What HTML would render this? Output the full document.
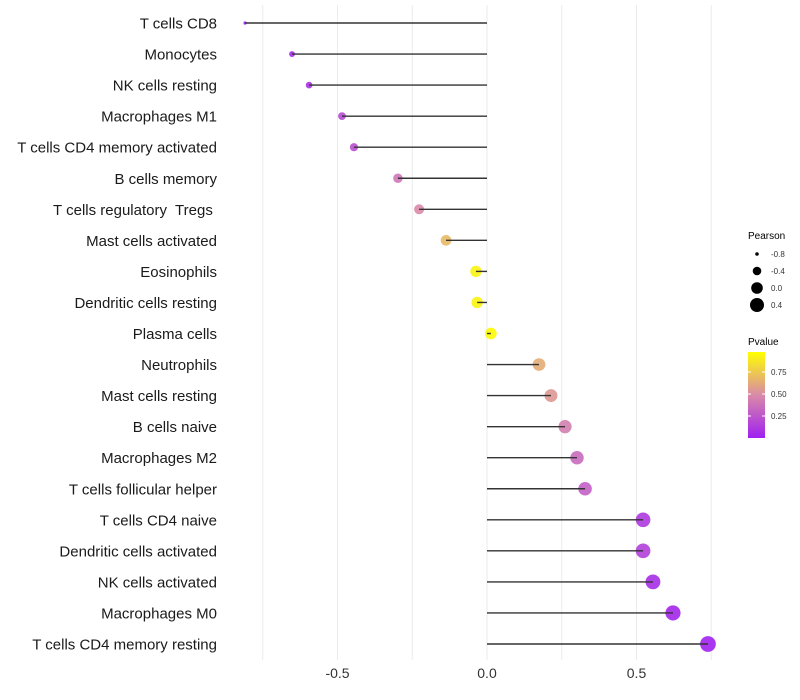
<!DOCTYPE html>
<html><head><meta charset="utf-8"><style>
body{margin:0;background:#fff;}
svg{display:block;font-family:"Liberation Sans",sans-serif;}
text{white-space:pre;}
</style></head><body>
<svg id="chart" width="800" height="700">
<defs><linearGradient id="pg" x1="0" y1="1" x2="0" y2="0">
<stop offset="0" stop-color="#A020F0"/><stop offset="0.5" stop-color="#D98AA8"/><stop offset="1" stop-color="#FFFF00"/>
</linearGradient></defs>
<g id="grid"></g><g id="marks"></g><g id="labels"></g>
<g>
<text x="748" y="239" font-size="10">Pearson</text>
<g id="sizeLeg"></g>
<text x="748" y="345" font-size="10">Pvalue</text>
<rect x="748" y="352" width="17" height="86" fill="url(#pg)"/>
<g id="cbTicks"></g>
</g>
</svg>
<script>
const categories=["T cells CD8","Monocytes","NK cells resting","Macrophages M1","T cells CD4 memory activated","B cells memory","T cells regulatory  Tregs ","Mast cells activated","Eosinophils","Dendritic cells resting","Plasma cells","Neutrophils","Mast cells resting","B cells naive","Macrophages M2","T cells follicular helper","T cells CD4 naive","Dendritic cells activated","NK cells activated","Macrophages M0","T cells CD4 memory resting"];
const pearson=[-0.809,-0.652,-0.595,-0.485,-0.445,-0.298,-0.227,-0.137,-0.037,-0.033,0.013,0.174,0.214,0.261,0.301,0.328,0.522,0.522,0.555,0.622,0.739];
const pvalue=[0.01,0.04,0.08,0.2,0.22,0.4,0.5,0.7,0.95,0.95,0.98,0.65,0.56,0.45,0.35,0.3,0.12,0.15,0.06,0.03,0.01];
const xTicks=[-0.5,0.0,0.5];
const xTickLabels=["-0.5","0.0","0.5"];
const sizeLegVals=[-0.8,-0.4,0.0,0.4];
const cbVals=[0.25,0.5,0.75];
const NS="http://www.w3.org/2000/svg";
function x(v){return 487+v*299;}
function y(i){return 23+i*31.05;}
function r(v){return Math.sqrt(Math.max(1,33.7+38.2*v));}
function lerp(a,b,t){return a+(b-a)*t;}
function col(p){const s=[[160,32,240],[217,138,168],[255,255,0]];let t=Math.max(0,Math.min(1,p));let a,b,u;if(t<0.5){a=s[0];b=s[1];u=t/0.5;}else{a=s[1];b=s[2];u=(t-0.5)/0.5;}return `rgb(${Math.round(lerp(a[0],b[0],u))},${Math.round(lerp(a[1],b[1],u))},${Math.round(lerp(a[2],b[2],u))})`;}
function cbY(p){return 438-p*88;}
function mk(t,at,parent){const e=document.createElementNS(NS,t);for(const k in at)e.setAttribute(k,at[k]);parent.appendChild(e);return e;}
const grid=document.getElementById('grid'),marks=document.getElementById('marks'),labels=document.getElementById('labels');
for(let v=-0.75;v<=0.751;v+=0.25){const g=mk('line',{x1:x(v),x2:x(v),y1:5,y2:660,stroke:'#ebebeb','stroke-width':1},grid);

}
xTicks.forEach((v,i)=>{const t=mk('text',{x:x(v),y:678,'font-size':14,fill:'#333','text-anchor':'middle'},labels);t.textContent=xTickLabels[i];

});
categories.forEach((c,i)=>{
const t=mk('text',{x:217,y:y(i)+5.5,'font-size':15,fill:'#1a1a1a','text-anchor':'end'},labels);t.textContent=c;


const pt=mk('circle',{cx:x(pearson[i]),cy:y(i),r:r(pearson[i]),fill:col(pvalue[i]),opacity:0.9},marks);


const ln=mk('line',{x1:x(0),x2:x(pearson[i]),y1:y(i),y2:y(i),stroke:'#333','stroke-width':1.4},marks);


});
const sl=document.getElementById('sizeLeg');
sizeLegVals.forEach((v,i)=>{const cy=254+i*17;const c=mk('circle',{cx:757,cy:cy,r:r(v),fill:'#000'},sl);


const t=mk('text',{x:771,y:cy+3,'font-size':8,fill:'#333'},sl);t.textContent=v.toFixed(1);

});
const cb=document.getElementById('cbTicks');
cbVals.forEach(v=>{const t=mk('text',{x:771,y:cbY(v)+3,'font-size':8,fill:'#333'},cb);t.textContent=v.toFixed(2);


mk('line',{x1:748,x2:751,y1:cbY(v),y2:cbY(v),stroke:'#fff'},cb);mk('line',{x1:762,x2:765,y1:cbY(v),y2:cbY(v),stroke:'#fff'},cb);});
</script>
</body></html>
